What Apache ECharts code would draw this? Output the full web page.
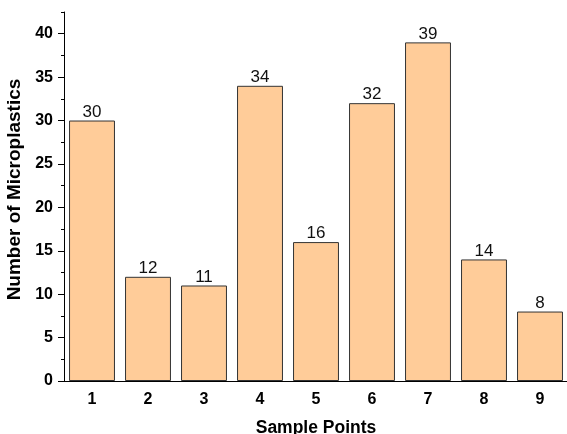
<!DOCTYPE html>
<html>
<head>
<meta charset="utf-8">
<style>html,body{margin:0;padding:0;background:#fff}#c{width:567px;height:434px}</style>
<script src="https://cdn.jsdelivr.net/npm/echarts@6/dist/echarts.min.js"></script>
</head>
<body>
<div id="c"></div>
<script>
var categories = ['1','2','3','4','5','6','7','8','9'];
var counts = [30, 12, 11, 34, 16, 32, 39, 14, 8];
var yTickValues = [0, 5, 10, 15, 20, 25, 30, 35, 40];

var FONT = 'Liberation Sans, Arial, sans-serif';
var chart = echarts.init(document.getElementById('c'));
chart.setOption({
  backgroundColor: '#fff',
  animation: false,
  grid: { left: 64, top: 12, width: 504, bottom: 53, containLabel: false, outerBoundsMode: 'none' },
  xAxis: [{
    type: 'category',
    data: categories,
    name: 'Sample Points',
    nameLocation: 'middle',
    nameGap: 38,
    nameTextStyle: { fontFamily: FONT, fontWeight: 'bold', fontSize: 17.5, color: '#000' },
    axisLine: { lineStyle: { color: '#000', width: 1 } },
    axisTick: { alignWithLabel: true, length: 5, lineStyle: { color: '#000' } },
    axisLabel: { fontFamily: FONT, fontWeight: 'bold', fontSize: 16, color: '#000', margin: 11 },
    splitLine: { show: false }
  }, {
    type: 'category',
    data: categories,
    position: 'bottom',
    axisLine: { show: false },
    axisTick: { alignWithLabel: false, length: 3, lineStyle: { color: '#000' } },
    axisLabel: { show: false },
    splitLine: { show: false }
  }],
  yAxis: [{
    type: 'value',
    min: 0,
    max: 42.5,
    interval: 5,
    name: 'Number of Microplastics',
    nameLocation: 'middle',
    nameGap: 38,
    nameTextStyle: { fontFamily: FONT, fontWeight: 'bold', fontSize: 19, color: '#000', padding: [0, 0, 0, 14] },
    axisLine: { show: true, lineStyle: { color: '#000', width: 1 } },
    axisTick: { show: true, length: 6, customValues: yTickValues, lineStyle: { color: '#000' } },
    axisLabel: { fontFamily: FONT, fontWeight: 'bold', fontSize: 16, color: '#000', margin: 11, customValues: yTickValues },
    splitLine: { show: false }
  }, {
    type: 'value',
    min: 0,
    max: 42.5,
    interval: 2.5,
    position: 'left',
    axisLine: { show: false },
    axisTick: { show: true, length: 3, lineStyle: { color: '#000' } },
    axisLabel: { show: false },
    splitLine: { show: false }
  }],
  series: [{
    type: 'bar',
    data: counts,
    xAxisIndex: 0,
    yAxisIndex: 0,
    barCategoryGap: '18%',
    itemStyle: { color: '#FFCC99', borderColor: '#333', borderWidth: 1 },
    label: { show: true, position: 'top', distance: 0, fontFamily: FONT, fontSize: 17, color: '#111' }
  }]
});
</script>
</body>
</html>
